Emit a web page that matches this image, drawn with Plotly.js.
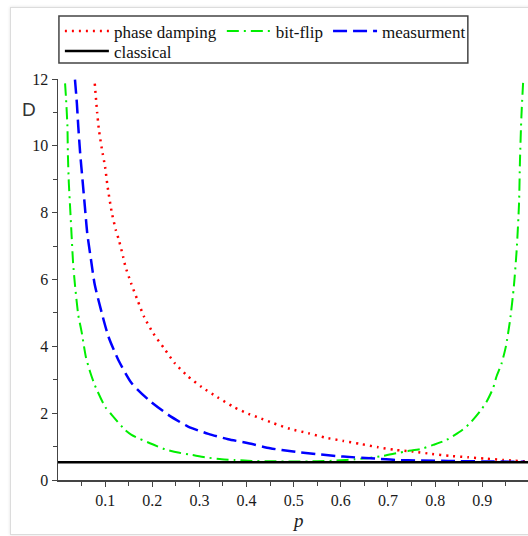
<!DOCTYPE html>
<html>
<head>
<meta charset="utf-8">
<script src="https://cdn.plot.ly/plotly-3.0.1.min.js"></script>
<style>
  html, body { margin: 0; padding: 0; background: #ffffff; }
  #frame { position: absolute; left: 10px; top: 7px; width: 540px; height: 526px;
           border: 1px solid #dcdcdc; box-shadow: 0 0 3px rgba(0,0,0,0.12); pointer-events: none; }
  #chart { position: absolute; left: 0; top: 0; width: 528px; height: 536px; }
</style>
</head>
<body>
<div id="chart"></div>
<div id="frame"></div>
<script>
// ---- data ----
const phaseP = [0.078, 0.083, 0.087, 0.093, 0.100, 0.105, 0.114, 0.123, 0.129, 0.138, 0.143, 0.155, 0.169, 0.183, 0.202, 0.225, 0.248, 0.275, 0.305, 0.338, 0.372, 0.404, 0.425, 0.457, 0.492, 0.531, 0.566, 0.605, 0.641, 0.679, 0.715, 0.754, 0.793, 0.831, 0.870, 0.906, 0.944, 0.966, 0.990];
const phaseD = [11.86, 11.00, 10.46, 9.91, 9.36, 8.80, 8.01, 7.46, 7.19, 6.69, 6.39, 5.89, 5.37, 4.87, 4.39, 3.94, 3.49, 3.11, 2.78, 2.48, 2.19, 1.98, 1.87, 1.70, 1.53, 1.40, 1.27, 1.17, 1.08, 0.98, 0.90, 0.85, 0.78, 0.72, 0.68, 0.64, 0.60, 0.58, 0.56];

const bitP = [0.015, 0.017, 0.020, 0.021, 0.023, 0.026, 0.029, 0.032, 0.036, 0.043, 0.050, 0.059, 0.068, 0.078, 0.100, 0.114, 0.142, 0.156, 0.195, 0.227, 0.255, 0.284, 0.312, 0.347, 0.375, 0.411, 0.450, 0.500, 0.550, 0.591, 0.630, 0.660, 0.690, 0.718, 0.740, 0.768, 0.796, 0.824, 0.853, 0.874, 0.895, 0.909, 0.923, 0.930, 0.941, 0.950, 0.959, 0.967, 0.973, 0.978, 0.980, 0.983, 0.987];
const bitD = [11.87, 11.43, 10.58, 9.73, 8.88, 8.08, 7.28, 6.49, 5.84, 4.94, 4.44, 3.69, 3.24, 2.84, 2.19, 1.95, 1.50, 1.35, 1.10, 0.92, 0.82, 0.75, 0.68, 0.62, 0.60, 0.57, 0.56, 0.555, 0.56, 0.58, 0.62, 0.66, 0.72, 0.80, 0.86, 0.92, 1.05, 1.20, 1.45, 1.70, 2.05, 2.34, 2.75, 3.09, 3.49, 3.99, 4.79, 5.79, 6.89, 8.28, 9.58, 10.88, 12.0];

const measP = [0.036, 0.040, 0.043, 0.047, 0.052, 0.057, 0.062, 0.070, 0.078, 0.093, 0.107, 0.128, 0.156, 0.192, 0.234, 0.276, 0.319, 0.361, 0.404, 0.450, 0.499, 0.552, 0.605, 0.662, 0.715, 0.771, 0.828, 0.900, 0.990];
const measD = [11.98, 11.28, 10.58, 9.78, 8.98, 8.18, 7.39, 6.59, 5.84, 4.99, 4.29, 3.59, 2.90, 2.40, 1.95, 1.60, 1.38, 1.22, 1.10, 0.95, 0.85, 0.77, 0.70, 0.65, 0.60, 0.58, 0.57, 0.555, 0.545];

const classicalP = [0, 1];
const classicalD = [0.53, 0.53];

const seriesNames = ["phase damping", "bit-flip", "measurment", "classical"];
const xTickVals = [0.1, 0.2, 0.3, 0.4, 0.5, 0.6, 0.7, 0.8, 0.9];
const xTickText = ["0.1", "0.2", "0.3", "0.4", "0.5", "0.6", "0.7", "0.8", "0.9"];
const yTickVals = [0, 2, 4, 6, 8, 10, 12];
const yTickText = ["0", "2", "4", "6", "8", "10", "12"];

// ---- styling ----
const serif = "Liberation Serif, Times New Roman, serif";

const traces = [
  { x: phaseP, y: phaseD, name: seriesNames[0], mode: "lines", legend: "legend",
    line: { color: "#ff0000", width: 2.5, dash: "2px,5px", shape: "spline", smoothing: 0.6 } },
  { x: bitP, y: bitD, name: seriesNames[1], mode: "lines", legend: "legend",
    line: { color: "#00ee00", width: 2, dash: "12px,5px,2px,5px", shape: "spline", smoothing: 0.6 } },
  { x: measP, y: measD, name: seriesNames[2], mode: "lines", legend: "legend",
    line: { color: "#0000ff", width: 2.5, dash: "14px,6px", shape: "spline", smoothing: 0.6 } },
  { x: classicalP, y: classicalD, name: seriesNames[3], mode: "lines", legend: "legend2",
    line: { color: "#000000", width: 2.5 } }
];

const legendFont = { family: serif, size: 17, color: "#111" };

const layout = {
  width: 528, height: 536,
  margin: { l: 58, r: 0, t: 79, b: 56, autoexpand: false },
  paper_bgcolor: "rgba(0,0,0,0)", plot_bgcolor: "rgba(0,0,0,0)",
  font: { family: serif, size: 16, color: "#1a1a1a" },
  showlegend: true,
  legend: { orientation: "h", x: 0.004, xanchor: "left", y: 1.1635, yanchor: "top",
            bgcolor: "rgba(0,0,0,0)", borderwidth: 0, itemwidth: 44, font: legendFont },
  legend2: { orientation: "h", x: 0.004, xanchor: "left", y: 1.1135, yanchor: "top",
             bgcolor: "rgba(0,0,0,0)", borderwidth: 0, itemwidth: 44, font: legendFont },
  xaxis: {
    range: [0, 0.997], showgrid: false, zeroline: false,
    showline: true, linecolor: "#444", linewidth: 1.5, mirror: false,
    tickmode: "array", tickvals: xTickVals, ticktext: xTickText,
    ticks: "outside", ticklen: 5, tickwidth: 1, tickcolor: "#444",
    tickfont: { family: serif, size: 16, color: "#1a1a1a" },
    minor: { tickmode: "linear", tick0: 0.05, dtick: 0.1, ticks: "outside", ticklen: 4, tickwidth: 1, tickcolor: "#444" }
  },
  yaxis: {
    range: [0, 12], showgrid: false, zeroline: false,
    showline: true, linecolor: "#444", linewidth: 1.5,
    tickmode: "array", tickvals: yTickVals, ticktext: yTickText,
    ticks: "outside", ticklen: 5, tickwidth: 1, tickcolor: "#444",
    tickfont: { family: serif, size: 16, color: "#1a1a1a" },
    minor: { tickmode: "linear", tick0: 1, dtick: 2, ticks: "outside", ticklen: 4, tickwidth: 1, tickcolor: "#444" }
  },
  shapes: [
    { type: "rect", xref: "paper", yref: "paper", x0: 0.002, x1: 0.872, y0: 1.040, y1: 1.157,
      line: { color: "#444", width: 1.5 }, fillcolor: "rgba(0,0,0,0)", layer: "above" }
  ],
  annotations: [
    { text: "D", xref: "paper", yref: "paper", x: -0.061, y: 0.923, xanchor: "center", yanchor: "middle",
      showarrow: false, font: { family: "Liberation Sans, Arial, sans-serif", size: 19, color: "#333" } },
    { text: "<i>p</i>", xref: "paper", yref: "paper", x: 0.51, y: -0.102, xanchor: "center", yanchor: "middle",
      showarrow: false, font: { family: serif, size: 19, color: "#222" } }
  ]
};

Plotly.newPlot("chart", traces, layout, { staticPlot: true, displayModeBar: false });
</script>
</body>
</html>
